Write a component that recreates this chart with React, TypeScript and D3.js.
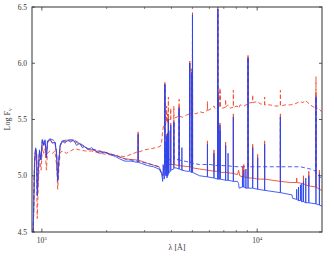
import React from "react";
import * as d3 from "d3";

// chart data: [wavelength in Angstrom, log flux]
const blueSolid: [number, number][] = [
  [912, 4.5], [925, 5.12], [935, 5.24], [945, 5.2], [953, 4.82], [962, 5.05], [975, 5.22], [990, 5.14],
  [1005, 5.32], [1020, 5.27], [1035, 5.31], [1050, 5.16], [1062, 5.3], [1090, 5.33], [1120, 5.29],
  [1150, 5.3], [1170, 5.2], [1185, 4.95], [1198, 5.12], [1215, 5.26], [1240, 5.31], [1280, 5.29],
  [1320, 5.32], [1360, 5.3], [1400, 5.32], [1450, 5.27], [1500, 5.29], [1540, 5.25], [1580, 5.26],
  [1640, 5.23], [1700, 5.25], [1780, 5.22], [1860, 5.2], [1950, 5.21], [2070, 5.19], [2200, 5.17],
  [2300, 5.15], [2430, 5.13], [2600, 5.13], [2760, 5.12], [2795, 5.12], [2800, 5.37], [2805, 5.12],
  [2900, 5.11], [3100, 5.09], [3300, 5.08], [3500, 5.06], [3600, 5.02], [3640, 4.95], [3660, 5.1],
  [3700, 4.97], [3720, 5.0], [3727, 5.81], [3734, 5.0], [3760, 5.05], [3771, 5.3], [3780, 5.0],
  [3792, 5.0], [3798, 5.35], [3805, 4.98], [3829, 4.99], [3835, 5.38], [3842, 5.0], [3863, 5.01],
  [3869, 5.5], [3875, 5.02], [3884, 5.02], [3889, 5.4], [3895, 5.03], [3962, 5.04], [3968, 5.45],
  [3974, 5.05], [4096, 5.06], [4102, 5.48], [4108, 5.07], [4200, 5.07], [4334, 5.06], [4340, 5.6],
  [4346, 5.06], [4465, 5.05], [4471, 5.25], [4477, 5.05], [4700, 5.04], [4855, 5.04], [4861, 6.0],
  [4867, 5.04], [4953, 5.03], [4959, 5.92], [4965, 5.03], [5001, 5.03], [5007, 6.43], [5013, 5.03],
  [5400, 5.0], [5870, 4.99], [5876, 5.28], [5882, 4.99], [6294, 4.98], [6300, 5.2], [6306, 4.98],
  [6556, 4.97], [6563, 6.48], [6572, 4.97], [6579, 4.97], [6584, 5.7], [6590, 4.97], [6710, 4.97],
  [6716, 5.45], [6722, 4.97], [6726, 4.97], [6731, 5.4], [6737, 4.97], [7130, 4.96], [7136, 5.27],
  [7142, 4.96], [7319, 4.96], [7325, 5.2], [7331, 4.96], [7744, 4.95], [7751, 5.52], [7758, 4.95],
  [8100, 4.95], [8200, 4.93], [8240, 4.89], [8539, 4.9], [8545, 5.0], [8551, 4.9], [8659, 4.9],
  [8665, 5.05], [8671, 4.9], [8857, 4.89], [8863, 5.06], [8869, 4.89], [9061, 4.89], [9069, 6.05],
  [9077, 4.89], [9524, 4.89], [9532, 5.25], [9540, 4.89], [10041, 4.88], [10049, 5.16], [10057, 4.88],
  [10822, 4.87], [10830, 5.28], [10838, 4.87], [12808, 4.85], [12818, 5.52], [12828, 4.85],
  [14500, 4.83], [14600, 4.8], [15250, 4.79], [15260, 4.88], [15270, 4.79], [15550, 4.78],
  [15560, 4.9], [15570, 4.78], [15875, 4.78], [15885, 4.92], [15895, 4.78], [16100, 4.77],
  [16110, 4.93], [16120, 4.77], [16400, 4.77], [16410, 4.95], [16420, 4.77], [16800, 4.76],
  [16810, 4.98], [16820, 4.76], [17357, 4.76], [17367, 5.0], [17377, 4.76], [18741, 4.75],
  [18751, 5.7], [18761, 4.75], [19440, 4.74], [19450, 5.02], [19460, 4.74], [20000, 4.73],
];

const redSolid: [number, number][] = [
  [912, 4.5], [925, 5.12], [935, 5.24], [945, 5.2], [953, 4.84], [962, 5.05], [975, 5.22], [990, 5.14],
  [1005, 5.31], [1020, 5.27], [1035, 5.3], [1050, 5.16], [1062, 5.29], [1090, 5.32], [1120, 5.29],
  [1150, 5.3], [1170, 5.2], [1185, 4.96], [1198, 5.12], [1215, 5.26], [1240, 5.3], [1320, 5.31],
  [1400, 5.31], [1500, 5.28], [1640, 5.24], [1780, 5.22], [1950, 5.21], [2200, 5.18], [2430, 5.15],
  [2760, 5.14], [2795, 5.14], [2800, 5.39], [2805, 5.14], [3100, 5.11], [3500, 5.08], [3640, 5.0],
  [3700, 5.05], [3720, 5.06], [3727, 5.83], [3734, 5.07], [3791, 5.08], [3798, 5.37], [3805, 5.09],
  [3863, 5.09], [3869, 5.52], [3875, 5.1], [3962, 5.1], [3968, 5.47], [3974, 5.1], [4096, 5.1],
  [4102, 5.5], [4108, 5.1], [4334, 5.09], [4340, 5.62], [4346, 5.09], [4855, 5.08], [4861, 6.02],
  [4867, 5.08], [5001, 5.07], [5007, 6.45], [5013, 5.07], [5400, 5.06], [5870, 5.05], [5876, 5.31],
  [5882, 5.05], [6294, 5.04], [6300, 5.23], [6306, 5.04], [6556, 5.04], [6563, 6.5], [6572, 5.04],
  [6579, 5.04], [6584, 5.72], [6590, 5.04], [6710, 5.03], [6716, 5.47], [6722, 5.03], [7130, 5.03],
  [7136, 5.3], [7142, 5.03], [7744, 5.02], [7751, 5.55], [7758, 5.02], [8100, 5.01], [8200, 5.05],
  [8300, 5.0], [8539, 4.99], [8545, 5.08], [8551, 4.99], [8659, 4.99], [8665, 5.1], [8671, 4.99],
  [9061, 4.98], [9069, 6.07], [9077, 4.98], [9524, 4.98], [9532, 5.28], [9540, 4.98], [10041, 4.97],
  [10049, 5.19], [10057, 4.97], [10822, 4.97], [10830, 5.31], [10838, 4.97], [12808, 4.95],
  [12818, 5.55], [12828, 4.95], [14240, 4.94], [15250, 4.94], [15260, 4.98], [15270, 4.94],
  [16400, 4.93], [16410, 5.0], [16420, 4.93], [16720, 4.92], [17357, 4.91], [17367, 5.04],
  [17377, 4.91], [18741, 4.9], [18751, 5.74], [18761, 4.9], [19440, 4.88], [19450, 5.05],
  [19460, 4.88], [20000, 4.87],
];

const blueDashed: [number, number][] = [
  [912, 4.5], [925, 5.13], [935, 5.25], [945, 5.21], [953, 4.83], [962, 5.06], [975, 5.23], [990, 5.15],
  [1005, 5.33], [1020, 5.28], [1035, 5.32], [1050, 5.17], [1062, 5.31], [1090, 5.33], [1150, 5.31],
  [1170, 5.21], [1185, 4.96], [1198, 5.13], [1215, 5.27], [1240, 5.31], [1320, 5.32], [1400, 5.32],
  [1500, 5.29], [1640, 5.24], [1780, 5.23], [1950, 5.21], [2200, 5.18], [2430, 5.15], [2760, 5.13],
  [3100, 5.11], [3500, 5.08], [3640, 5.0], [3700, 5.1], [3720, 5.11], [3727, 5.81], [3734, 5.12],
  [3863, 5.13], [3869, 5.5], [3875, 5.14], [4096, 5.15], [4102, 5.48], [4108, 5.15], [4334, 5.14],
  [4340, 5.6], [4346, 5.14], [4855, 5.12], [4861, 6.0], [4867, 5.12], [5001, 5.11], [5007, 6.43],
  [5013, 5.11], [5400, 5.1], [6045, 5.1], [6556, 5.09], [6563, 6.48], [6570, 5.09], [7100, 5.09],
  [8072, 5.08], [9061, 5.08], [9069, 6.05], [9077, 5.08], [10324, 5.08], [12808, 5.08],
  [12818, 5.52], [12828, 5.08], [15850, 5.08], [17640, 5.06], [18741, 5.04], [18751, 5.7],
  [18761, 5.02], [19850, 4.98],
];

const redDashed: [number, number][] = [
  [912, 4.5], [922, 5.0], [932, 5.2], [942, 5.15], [952, 4.62], [962, 4.9], [975, 5.15], [992, 5.05],
  [1005, 5.25], [1020, 5.2], [1035, 5.24], [1050, 5.05], [1062, 5.2], [1090, 5.22], [1120, 5.2],
  [1150, 5.22], [1170, 5.1], [1185, 4.88], [1198, 5.05], [1215, 5.2], [1240, 5.22], [1300, 5.2],
  [1360, 5.22], [1420, 5.24], [1500, 5.23], [1600, 5.22], [1700, 5.22], [1860, 5.2], [2000, 5.19],
  [2200, 5.18], [2430, 5.17], [2600, 5.19], [2760, 5.21], [2795, 5.21], [2800, 5.36], [2805, 5.21],
  [3000, 5.23], [3200, 5.24], [3400, 5.25], [3540, 5.26], [3600, 5.3], [3640, 5.4], [3680, 5.45],
  [3720, 5.45], [3727, 5.81], [3734, 5.45], [3791, 5.47], [3798, 5.62], [3805, 5.47], [3829, 5.48],
  [3835, 5.55], [3841, 5.48], [3863, 5.49], [3869, 5.7], [3875, 5.5], [3962, 5.5], [3968, 5.6],
  [3974, 5.5], [4096, 5.51], [4102, 5.62], [4108, 5.51], [4334, 5.53], [4340, 5.68], [4346, 5.53],
  [4500, 5.52], [4700, 5.54], [4855, 5.55], [4861, 6.0], [4867, 5.55], [4953, 5.55], [4959, 5.95],
  [4965, 5.55], [5001, 5.56], [5007, 6.43], [5013, 5.56], [5200, 5.55], [5400, 5.57], [5600, 5.56],
  [5870, 5.58], [5876, 5.66], [5882, 5.58], [6045, 5.59], [6300, 5.62], [6400, 5.59], [6556, 5.6],
  [6563, 6.48], [6570, 5.6], [6710, 5.61], [6716, 5.78], [6722, 5.61], [6726, 5.61], [6731, 5.75],
  [6737, 5.61], [6900, 5.6], [7100, 5.61], [7130, 5.61], [7136, 5.68], [7142, 5.61], [7300, 5.63],
  [7489, 5.6], [7744, 5.61], [7751, 5.76], [7758, 5.61], [8072, 5.62], [8200, 5.6], [8337, 5.63],
  [8700, 5.62], [9061, 5.64], [9069, 6.05], [9077, 5.64], [9277, 5.65], [9524, 5.65], [9532, 5.72],
  [9540, 5.65], [10000, 5.66], [10324, 5.64], [10822, 5.63], [10830, 5.7], [10838, 5.63],
  [11494, 5.63], [12000, 5.62], [12808, 5.62], [12818, 5.76], [12828, 5.62], [13500, 5.63],
  [14240, 5.63], [15000, 5.64], [15850, 5.66], [16300, 5.65], [16720, 5.67], [17200, 5.65],
  [17640, 5.63], [18300, 5.61], [18741, 5.61], [18751, 5.88], [18761, 5.6], [19300, 5.6],
  [19850, 5.57],
];

const yTicks = [4.5, 5.0, 5.5, 6.0, 6.5];
const xMajor = [1000, 10000];
const xMajorExp = ["3", "4"];
const xMinor = [2000, 3000, 4000, 5000, 6000, 7000, 8000, 9000];

const W = 334;
const H = 258;
const left = 32, right = 322, top = 7, bottom = 232;

const RED = "#f24a2c";
const BLUE = "#2a44f2";
const AXIS = "#333";

export default function App() {
  const x = d3.scaleLog().domain([900, 20000]).range([left, right]);
  const y = d3.scaleLinear().domain([4.5, 6.5]).range([bottom, top]);
  const line = d3.line<[number, number]>().x(d => x(d[0])).y(d => y(d[1]));
  const font = "'Liberation Serif', 'DejaVu Serif', serif";

  return (
    <svg width={W} height={H} style={{ position: "absolute", left: 0, top: 0, background: "#fff" }}>
      <defs>
        <clipPath id="plot">
          <rect x={left} y={top} width={right - left} height={bottom - top} />
        </clipPath>
      </defs>
      <g clipPath="url(#plot)" fill="none" strokeWidth={1}>
        <path d={line(redSolid) || ""} stroke={RED} strokeOpacity={0.9} />
        <path d={line(redDashed) || ""} stroke={RED} strokeOpacity={0.9} strokeDasharray="4,2.5" />
        <path d={line(blueSolid) || ""} stroke={BLUE} strokeOpacity={0.85} />
        <path d={line(blueDashed) || ""} stroke={BLUE} strokeOpacity={0.85} strokeDasharray="4,2.5" />
      </g>
      {/* ticks */}
      <g stroke={AXIS} strokeWidth={0.8}>
        {yTicks.map(t => (
          <g key={t}>
            <line x1={left} x2={left + 3} y1={y(t)} y2={y(t)} />
            <line x1={right} x2={right - 3} y1={y(t)} y2={y(t)} />
          </g>
        ))}
        {xMajor.map(t => (
          <g key={t}>
            <line x1={x(t)} x2={x(t)} y1={bottom} y2={bottom - 3.5} />
            <line x1={x(t)} x2={x(t)} y1={top} y2={top + 3.5} />
          </g>
        ))}
        {xMinor.map(t => (
          <g key={t} strokeWidth={0.6}>
            <line x1={x(t)} x2={x(t)} y1={bottom} y2={bottom - 2} />
            <line x1={x(t)} x2={x(t)} y1={top} y2={top + 2} />
          </g>
        ))}
      </g>
      <rect x={left} y={top} width={right - left} height={bottom - top} fill="none" stroke={AXIS} strokeWidth={1} />
      <g fontFamily={font} fontSize={7.5} fill={AXIS}>
        {yTicks.map(t => (
          <text key={t} x={left - 5} y={y(t) + 2.5} textAnchor="end">{t.toFixed(1)}</text>
        ))}
        {xMajor.map((t, i) => (
          <text key={t} x={x(t)} y={bottom + 11} textAnchor="middle">
            10<tspan dy={-3.5} fontSize={5}>{xMajorExp[i]}</tspan>
          </text>
        ))}
        <text x={(left + right) / 2} y={bottom + 18} textAnchor="middle" fontSize={8}>λ [Å]</text>
        <text transform={`translate(10,${(top + bottom) / 2}) rotate(-90)`} textAnchor="middle" fontSize={8}>
          Log F<tspan dy={2} fontSize={5.5}>ν</tspan>
        </text>
      </g>
    </svg>
  );
}
